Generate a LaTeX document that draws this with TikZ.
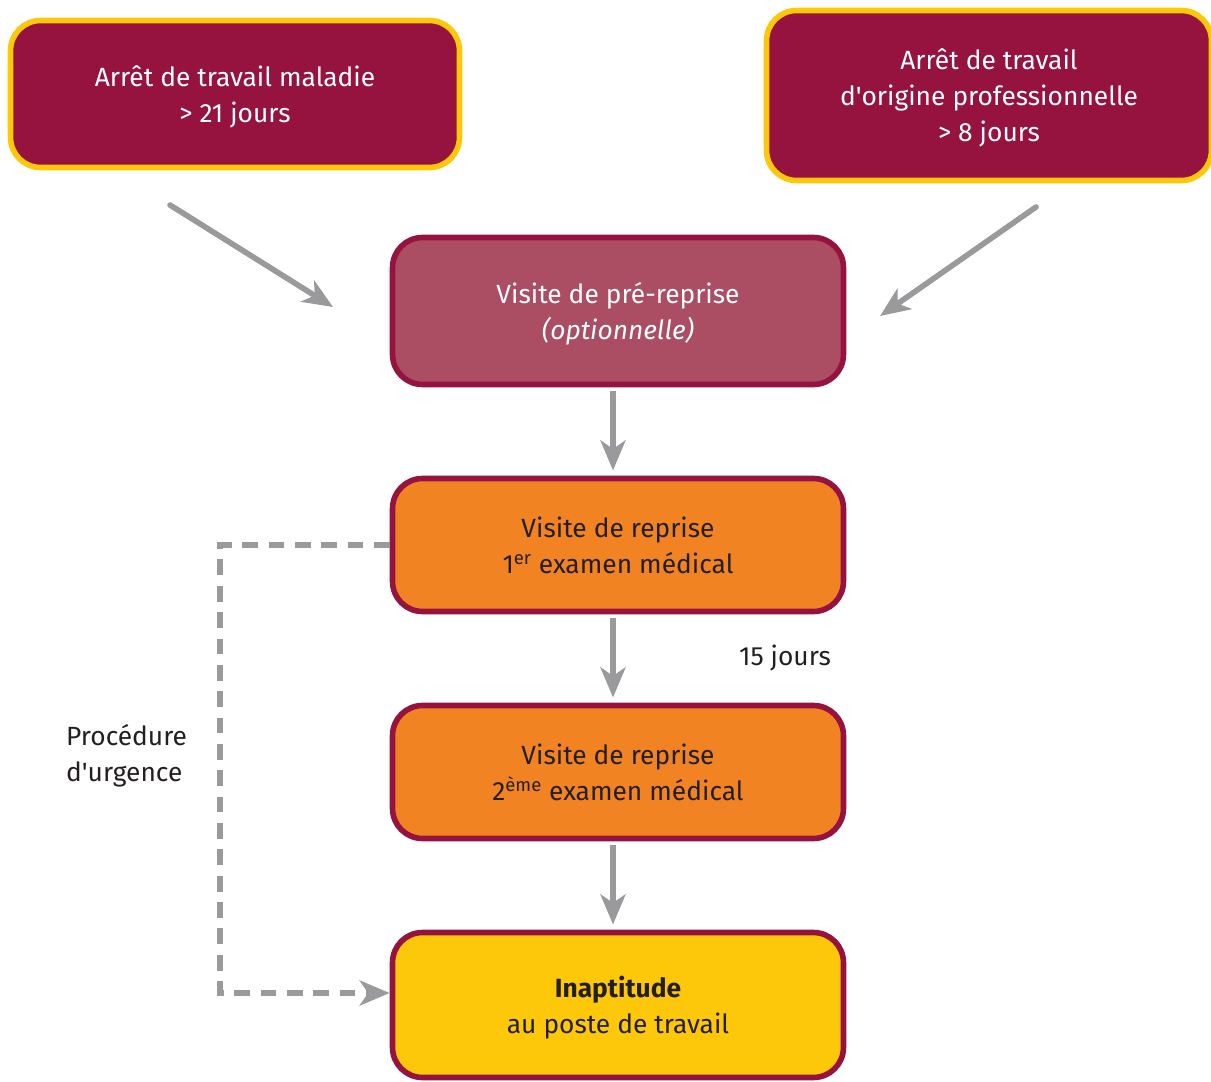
\documentclass[tikz,border=0pt]{standalone}
\usepackage{fontspec}
\setmainfont{Fira Sans}
\usetikzlibrary{arrows.meta}
\definecolor{bordeaux}{HTML}{97133F}
\definecolor{vieuxrose}{HTML}{AB4E63}
\definecolor{orange}{HTML}{F28322}
\definecolor{jaune}{HTML}{FEC80A}
\definecolor{gris}{HTML}{9A9A9C}
\definecolor{texte}{HTML}{231F20}

\begin{document}
\begin{tikzpicture}
[x=0.02cm,y=-0.02cm,
 every node/.style={align=center,font=\fontsize{15}{20.5}\selectfont},
 box/.style={rectangle,rounded corners=0.6cm,line width=3.2pt,draw=bordeaux,
   minimum width=9.02cm,inner sep=0pt,text depth=0pt},
 arret/.style={box,draw=jaune,fill=bordeaux,text=white},
 fleche/.style={draw=gris,line width=3.2pt,
   -{Stealth[length=0.6cm,width=0.5cm,inset=0.17cm]}}]

  \useasboundingbox (0,0) rectangle (1211,1082);

  % les arrets de travail
  \node (mal) at (235,94) [arret,minimum width=8.98cm,minimum height=2.94cm]
    {Arrêt de travail maladie\\> 21 jours};
  \node (pro) at (989,95.5) [arret,minimum width=8.9cm,minimum height=3.4cm]
    {Arrêt de travail\\d\textquotesingle origine professionnelle\\> 8 jours};

  % les visites
  \node (pre) at (618,311) [box,fill=vieuxrose,text=white,minimum height=2.94cm]
    {Visite de pré-reprise\\\textit{(optionnelle)}};
  \node (rep1) at (618,545) [box,fill=orange,text=texte,minimum height=2.66cm]
    {Visite de reprise\\1\textsuperscript{er} examen médical};
  \node (rep2) at (618,772) [box,fill=orange,text=texte,minimum height=2.66cm]
    {Visite de reprise\\2\textsuperscript{ème} examen médical};
  \node (inap) at (618,1005) [box,fill=jaune,text=texte,minimum height=2.9cm]
    {\textbf{Inaptitude}\\au poste de travail};

  % les textes
  \node (delai) at (785,658) [text=texte] {15 jours};
  \node (urg) at (60,756) [anchor=west,align=left,text=texte]
    {Procédure\\d\textquotesingle urgence};

  \coordinate (d1) at (170,205);
  \coordinate (f1) at (333,307);
  \coordinate (d2) at (1036,207);
  \coordinate (f2) at (880,316);
  \draw[fleche,line cap=round] (d1) -- (f1);
  \draw[fleche,line cap=round] (d2) -- (f2);

  \foreach \from/\to in {pre/rep1,rep1/rep2,rep2/inap}
    \draw[fleche,shorten <=2pt,shorten >=3pt]
      ([xshift=-0.1cm]\from.south) -- ([xshift=-0.1cm]\to.north);

  \draw[fleche,dash pattern=on 9pt off 6pt]
    (rep1.west) -- ++(-170,0) |- ([yshift=0.24cm]inap.west);

\end{tikzpicture}
\end{document}
